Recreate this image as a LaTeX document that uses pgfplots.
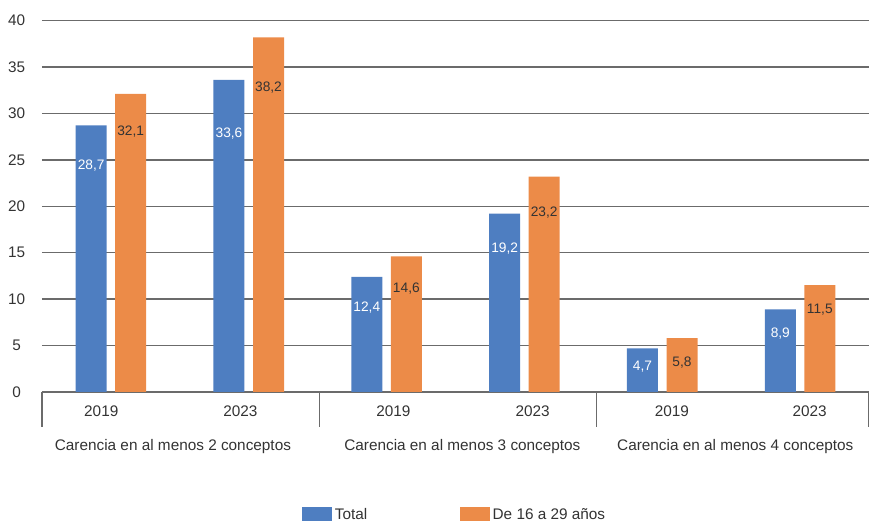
\documentclass[border=0pt]{standalone}
\usepackage{pgfplots}
\pgfplotsset{compat=1.18}
\usepackage{pgfplotstable}
\usepackage{fontspec}
\setmainfont{Liberation Sans}

\definecolor{cblue}{HTML}{4E7EC1}
\definecolor{corange}{HTML}{EC8B48}
\definecolor{txt}{HTML}{333333}
\definecolor{gridc}{HTML}{6B6B6B}

% off = distance of the value label below the bar top (pt)
\pgfplotstableread{
x y off
0 28.7 30
1 33.6 40
2 12.4 23
3 19.2 26
4 4.7 14
5 8.9 18
}\total
\pgfplotstableread{
x y off
0 32.1 28.5
1 38.2 38
2 14.6 24
3 23.2 27
4 5.8 18
5 11.5 18
}\young

\begin{document}
\begin{tikzpicture}
\useasboundingbox (0,0) rectangle (651.75pt,390.75pt);
\begin{axis}[
  at={(31.5pt,96.75pt)}, anchor=south west,
  scale only axis, width=620.25pt, height=278.6pt,
  xmin=-0.5, xmax=5.5, ymin=0, ymax=40,
  ytick={0,5,...,40},
  ymajorgrids, grid style={gridc, line width=1.1pt},
  axis line style={draw=none},
  major tick length=0pt,
  /pgf/number format/assume math mode=true,
  xtick={-0.07,0.94,2.05,3.06,4.07,5.07},
  xticklabels={2019,2023,2019,2023,2019,2023},
  xticklabel style={anchor=center, yshift=-14.6pt, font=\fontsize{11.5}{13}\selectfont, text=txt},
  yticklabel style={anchor=center, xshift=-19pt, font=\fontsize{11.5}{13}\selectfont, text=txt},
  ybar=6.4pt, bar width=23.25pt,
  clip=false,
  visualization depends on={\thisrow{off}\as\off},
  nodes near coords={\pgfmathprintnumber[fixed,fixed zerofill,precision=1,use comma]{\pgfplotspointmeta}},
  nodes near coords style={anchor=center, yshift=-1pt*\off, font=\fontsize{10.3}{12}\selectfont},
  legend style={at={(0.3144,0)}, anchor=west, yshift=-92.25pt, draw=none, inner sep=0pt,
    legend columns=2, font=\fontsize{11.5}{13}\selectfont, text=txt,
    /tikz/every even column/.append style={column sep=67.5pt}},
  legend image code/.code={\fill[#1,draw=none] (0pt,-5.3pt) rectangle (22.5pt,6pt);},
]
\addplot[fill=cblue, draw=none, nodes near coords style={text=white}] table[x=x,y=y] {\total};
\addplot[fill=corange, draw=none, nodes near coords style={text=txt}] table[x=x,y=y] {\young};
\legend{Total, De 16 a 29 años}

\pgfplotsinvokeforeach{-0.5,1.51,3.52,5.5}{
  \draw[gridc, line width=0.8pt] (axis cs:#1,0) -- ([yshift=-26pt]axis cs:#1,0);
}
\node[txt, font=\fontsize{11.5}{13}\selectfont, yshift=-40.9pt] at (axis cs:0.45,0) {Carencia en al menos 2 conceptos};
\node[txt, font=\fontsize{11.5}{13}\selectfont, yshift=-40.9pt] at (axis cs:2.55,0) {Carencia en al menos 3 conceptos};
\node[txt, font=\fontsize{11.5}{13}\selectfont, yshift=-40.9pt] at (axis cs:4.53,0) {Carencia en al menos 4 conceptos};
\end{axis}
\end{tikzpicture}
\end{document}
